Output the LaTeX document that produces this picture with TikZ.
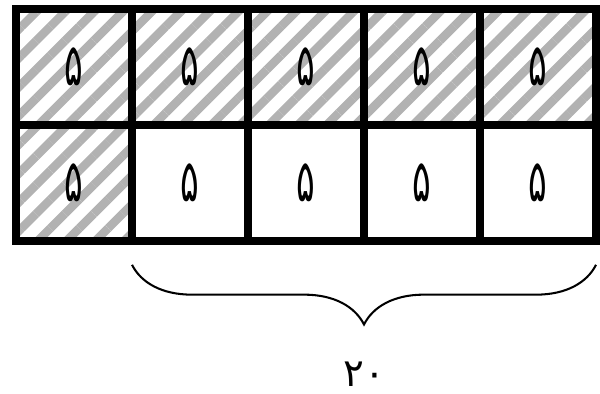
\documentclass[tikz,border=0pt]{standalone}
\usepackage{graphicx}
\usepackage{fontspec}
\newfontfamily\arabicfont[Script=Arabic]{DejaVu Sans}
\usetikzlibrary{patterns.meta}
\usetikzlibrary{decorations.pathreplacing}
\newcommand{\tallnum}[1]{\scalebox{0.95}[1.6]{#1}}

\begin{document}
\begin{tikzpicture}[
	cell/.style={draw, line width=4pt, minimum size=2cm, inner sep=0pt,
		font=\arabicfont\fontsize{18}{20}\selectfont},
	shaded/.style={cell, pattern={Lines[angle=45, distance=10pt, line width=4.2pt]},
		pattern color=black!30},
]
	\useasboundingbox (-0.276,0.155) rectangle (10.069,-6.638);
	
	% Top row, all shaded
	\node[shaded] (c1) at (1,-1) {\tallnum{۵}};
	\node[shaded] (c2) at (3,-1) {\tallnum{۵}};
	\node[shaded] (c3) at (5,-1) {\tallnum{۵}};
	\node[shaded] (c4) at (7,-1) {\tallnum{۵}};
	\node[shaded] (c5) at (9,-1) {\tallnum{۵}};
	
	% Bottom row, only the first one shaded
	\node[shaded] (c6) at (1,-3) {\tallnum{۵}};
	\node[cell] (c7) at (3,-3) {\tallnum{۵}};
	\node[cell] (c8) at (5,-3) {\tallnum{۵}};
	\node[cell] (c9) at (7,-3) {\tallnum{۵}};
	\node[cell] (c10) at (9,-3) {\tallnum{۵}};
	
	% Brace under the four white cells
	\coordinate (bl) at (2,-4.41);
	\coordinate (br) at (10,-4.41);
	\draw[line width=1pt, decorate, decoration={brace, mirror, amplitude=1.03cm}] (bl) -- (br);
	\node[inner sep=0pt, font=\arabicfont\fontsize{19}{20}\selectfont] (total) at (6,-6.3) {۲۰};
	
\end{tikzpicture}
\end{document}
